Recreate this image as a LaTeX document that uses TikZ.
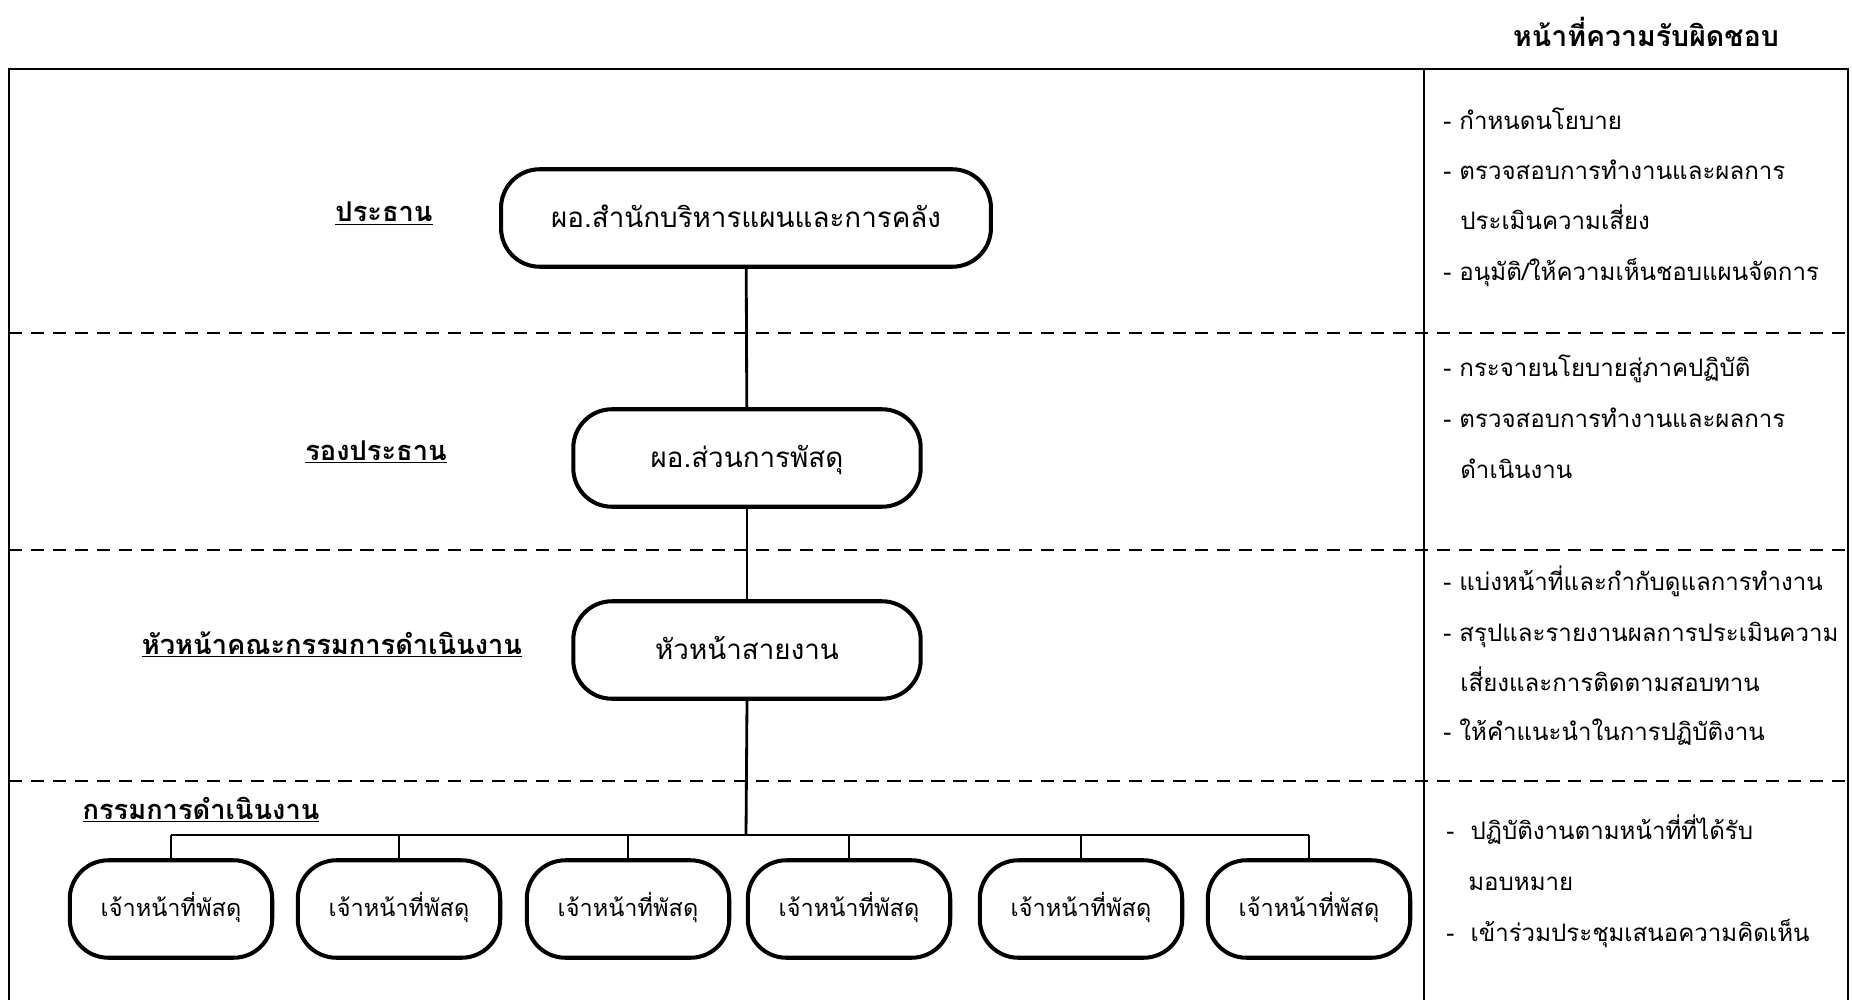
\documentclass[tikz,border=0pt]{standalone}
\usepackage{fontspec}
\setmainfont[Script=Thai]{Loma}
\usetikzlibrary{positioning}

\begin{document}
\begin{tikzpicture}[x=0.02cm,y=-0.02cm,
    post/.style={draw,line width=2.3pt,rounded corners=22pt,
      minimum height=1.95cm,inner sep=0pt,
      text height=1.15em,text depth=0.05em,
      font=\fontsize{15.8}{18}\selectfont},
    staff/.style={post,minimum width=4.05cm,
      text height=0.85em,text depth=0.05em,
      font=\fontsize{13.4}{16}\selectfont},
    role/.style={anchor=base,inner sep=0pt,
      font=\fontsize{15.5}{18}\selectfont\bfseries},
    duty/.style={anchor=base west,inner sep=0pt,
      font=\fontsize{13.7}{17}\selectfont},
    link/.style={line width=1.6pt},
    band/.style={line width=1.1pt,dash pattern=on 7.5pt off 5pt}]
  \useasboundingbox (0,0) rectangle (1852,1000);

  % frame and bands
  \draw[line width=1pt] (9,1000) -- (9,69) -- (1848,69) -- (1848,1000);
  \draw[line width=1pt] (1424,69) -- (1424,1000);
  \draw[band] (9,333) -- (1848,333);
  \draw[band] (9,550) -- (1848,550);
  \draw[band] (9,781) -- (1848,781);

  \node[role,font=\fontsize{16.2}{20}\selectfont\bfseries] (title) at (1646,47) {หน้าที่ความรับผิดชอบ};

  % levels
  \node[role] (chair) at (384,222) {\underline{ประธาน}};
  \node[role] (vice) at (376,460) {\underline{รองประธาน}};
  \node[role] (leadrole) at (332,654) {\underline{หัวหน้าคณะกรรมการดำเนินงาน}};
  \node[role] (board) at (201,819) {\underline{กรรมการดำเนินงาน}};

  % chart
  \node[post,minimum width=9.8cm] (top) at (746,218) {ผอ.สำนักบริหารแผนและการคลัง};
  \node[post,minimum width=6.95cm] (mid) at (747,458) {ผอ.ส่วนการพัสดุ};
  \node[post,minimum width=6.95cm] (head) at (747,650) {หัวหน้าสายงาน};

  \node[staff] (s1) at (171,909) {เจ้าหน้าที่พัสดุ};
  \node[staff] (s2) at (399,909) {เจ้าหน้าที่พัสดุ};
  \node[staff] (s3) at (628,909) {เจ้าหน้าที่พัสดุ};
  \node[staff] (s4) at (849,909) {เจ้าหน้าที่พัสดุ};
  \node[staff] (s5) at (1081,909) {เจ้าหน้าที่พัสดุ};
  \node[staff] (s6) at (1309,909) {เจ้าหน้าที่พัสดุ};
  \coordinate (bus) at (746,835);

  \draw[link] (top) -- (mid);
  \draw[link] (mid) -- (head);
  \draw[link] (head.south) -- (bus);
  \draw[link] (s1.north |- bus) -- (s6.north |- bus);
  \draw[link] (s1.north) -- (s1.north |- bus);
  \draw[link] (s2.north) -- (s2.north |- bus);
  \draw[link] (s3.north) -- (s3.north |- bus);
  \draw[link] (s4.north) -- (s4.north |- bus);
  \draw[link] (s5.north) -- (s5.north |- bus);
  \draw[link] (s6.north) -- (s6.north |- bus);

  % duties
  \node[duty] (d11) at (1443,130) {- กำหนดนโยบาย};
  \node[duty] (d12) at (1443,180) {- ตรวจสอบการทำงานและผลการ};
  \node[duty] (d13) at (1460,230) {ประเมินความเสี่ยง};
  \node[duty] (d14) at (1443,280) {- อนุมัติ/ให้ความเห็นชอบแผนจัดการ};

  \node[duty] (d21) at (1443,376) {- กระจายนโยบายสู่ภาคปฏิบัติ};
  \node[duty] (d22) at (1443,427) {- ตรวจสอบการทำงานและผลการ};
  \node[duty] (d23) at (1460,478) {ดำเนินงาน};

  \node[duty] (d31) at (1443,590) {- แบ่งหน้าที่และกำกับดูแลการทำงาน};
  \node[duty] (d32) at (1443,641) {- สรุปและรายงานผลการประเมินความ};
  \node[duty] (d33) at (1460,691) {เสี่ยงและการติดตามสอบทาน};
  \node[duty] (d34) at (1443,740) {- ให้คำแนะนำในการปฏิบัติงาน};

  \node[duty] (d41) at (1446,839) {-\ \ ปฏิบัติงานตามหน้าที่ที่ได้รับ};
  \node[duty] (d42) at (1468,890) {มอบหมาย};
  \node[duty] (d43) at (1446,941) {-\ \ เข้าร่วมประชุมเสนอความคิดเห็น};
\end{tikzpicture}
\end{document}
